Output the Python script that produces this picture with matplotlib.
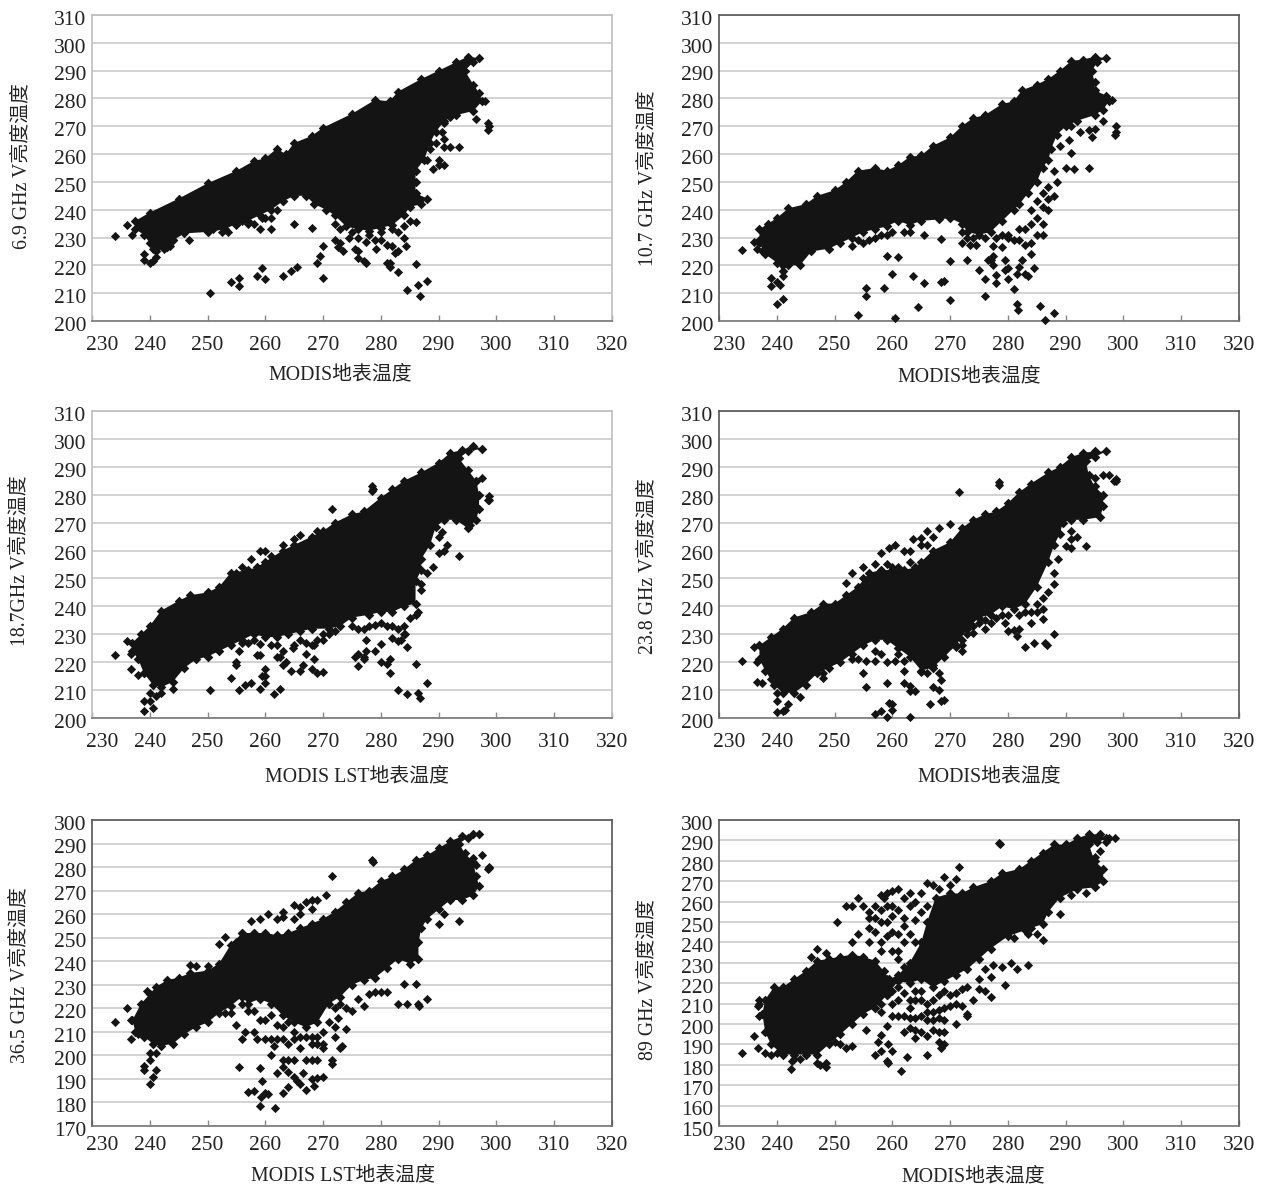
import matplotlib
matplotlib.use('Agg')
import matplotlib.pyplot as plt
from matplotlib.transforms import ScaledTranslation

plt.rcParams['font.family'] = ['Liberation Serif', 'Noto Sans CJK SC', 'DejaVu Sans']

W, H = 1267, 1189

# x ticks are the same in every panel
x_ticks = [230, 240, 250, 260, 270, 280, 290, 300, 310, 320]
y_ticks_a = [200, 210, 220, 230, 240, 250, 260, 270, 280, 290, 300, 310]
y_ticks_b = [170, 180, 190, 200, 210, 220, 230, 240, 250, 260, 270, 280, 290, 300]
y_ticks_c = [150, 160, 170, 180, 190, 200, 210, 220, 230, 240, 250, 260, 270, 280, 290, 300]

# the black mass cannot be split into single points, so its outline is read off the picture
p1_body = [(237.5,236),(240,239),(245,244),(250,249.5),(255,254),(258,257.5),(260,258.5),(262,262),(263.5,260),(265,264),(268,266.5),(270,269.5),(275,274.5),(279,279.5),(281.5,279),(283,282.5),(287,287),(290,290),(293,293),(295,295),(297,294.5),(296,293),(294.5,290),(296,285),(297,282),(297.5,279),(296,275.5),(293,274),(291,272),(289.5,268),(288.5,264),(287.5,258),(286,254),(286,250),(286,246),(288,244),(287,242),(285,241),(284,238),(282,234.5),(280,233.5),(278,232.5),(276,233),(274,234),(272,238),(270.5,240),(268.5,242),(267,245),(265,245),(263,243),(261,240),(259,238),(257,236),(255,235),(253,233),(250,232),(246,231.5),(244,229),(243,226.5),(241,225),(240,228),(239,231),(237.5,233)]
p1_points = [(234,230.5),(236,234.5),(237,231),(239,224),(239,222),(240,221),(240.5,221.5),(241,223),(240.5,226),(241.5,227),(242.5,226),(243.5,227),(244,229),(246.8,229),(251,233),(252.5,232),(253.5,232),(255,234.5),(256,236),(257,235),(258,235),(259,233),(259.5,237),(260,237),(261,233),(261,237),(262,240),(263,243),(265,235),(268,233.5),(269,221),(269.5,223.5),(270,227),(270,215.5),(264.5,218),(265.5,219.5),(263,216),(260,215),(259.5,219),(258.5,216),(255.5,215.5),(255.5,212.5),(254,214),(250.5,210),(272,229),(272.5,226.5),(273,228),(273.5,225),(274.5,230),(275.5,226),(276,225),(276,222.5),(277,221.5),(277.5,221),(277.5,228.5),(279,229),(280,229),(279.2,226),(281,227.5),(282,227),(283,225),(282.5,224.5),(284,230),(284.3,227),(281,221),(281.5,221),(281.5,219.5),(283,217.5),(286,220.5),(284.5,211),(286.5,213),(286.7,209),(288,214.5),(289,254.5),(291,256),(290,256),(290,258),(291,262.5),(292,262.5),(293.5,262.5),(291,265.5),(289.5,264),(288.5,262),(288,258),(290.5,268),(291,271),(292,273.5),(296.5,272.5),(298.5,268.5),(298.7,270),(298.5,271),(298,279),(286,235.5),(285,236),(284,234),(283,232),(282,233),(280,232),(278,231),(276,230),(275,232),(272,235),(273,233)]

p2_body = [(237,233),(238.5,235),(240,237),(242,240.5),(245,242),(247,245),(250,247),(252,250),(254,254),(257,255),(259,254),(261,256),(263,259),(265,259.5),(267,263),(270,266),(272,270),(274,273),(276,274),(279,278),(281,279),(282.5,283),(285,285),(287,287),(289,290),(291,293.5),(293,294),(295,295),(297,294.5),(295.5,293),(294.5,290),(295,286),(295,283),(297,281),(297.5,279),(296.5,276),(295,274),(292,272),(290,270),(288.5,267),(287.5,262),(287,258),(286,255),(285,250),(283.5,246),(282,242),(281,240),(279,236),(277,232),(275,231),(273,232),(272,235),(270,237),(268,236.5),(265,236),(263,234.5),(261,236),(259,234),(257,233),(255,232),(253,230),(251,228),(249,226),(246,225),(244,220),(242,220),(241,218),(240,221),(238,224),(237,228)]
p2_points = [(234,225.5),(236,228.5),(236.5,226),(237,229),(237.5,225),(239,215.5),(239,212.5),(240,214),(240.5,213),(241,216),(240,206),(241,208),(254,202),(255.5,212),(255.5,209),(258.5,212),(260,217),(259,223.5),(261,223),(263.5,216),(265.5,213.5),(264.5,205),(260.5,201),(268.5,214),(269,214.5),(268.5,229.5),(265.5,231),(270,221.5),(270,207.5),(272,228),(273,222),(273.5,227.5),(274.5,227.5),(275,218.5),(276,215),(276,209),(276.5,222),(277,222),(277.5,223.5),(277.5,220),(278,216.5),(278,213.5),(277.5,227),(279,226.5),(279.5,222),(280,219),(279.5,218.5),(280,215),(281,211.5),(281.5,217),(281.5,206),(281.8,204),(282,219.5),(282.5,222),(283,217),(283.5,216),(284,224),(284.5,219),(284,228),(281,229),(282,229),(283,227.5),(285,231),(286,231),(286,235),(285.5,205.5),(286.5,200.5),(288,203),(288.5,250),(288,254),(291,260.5),(290,255),(291.5,254.5),(294,255),(290.5,265),(289,263),(291,270),(292.5,268),(294,268.5),(294.5,266),(295,269),(296.5,272),(298.7,270),(298.5,267),(298.7,268),(298,279.5),(286,246),(287,248),(285,243),(284,240),(286,241),(285,237),(283,233),(284,235),(282,233),(280,231),(279,231),(287,244),(288,245),(287,240),(253,227),(254,229),(255,228),(256,229),(257,230),(258,231),(259,231),(260,232),(262,232),(263,232),(272,232),(273,230),(274,230),(276,230),(278,230),(280,230)]

p3_body = [(237,227),(238.5,230),(240,233),(242,238.5),(245,242),(247,244),(250,245),(252,247),(254,252),(257,253),(258.5,254),(260,256),(263,260),(265,262),(268,265),(270,267),(272,270),(275,273),(277,274),(280,279),(282,282),(284,285),(287,288),(290,291.5),(292,295),(294,296),(296,297.5),(297.5,296.5),(295,295.5),(293.5,293),(295,289),(296.5,285),(297,280),(297,275),(296.5,271),(295,268),(293,271),(291,271),(289.5,268.5),(288.5,262),(287,257),(287,253),(286,249),(286,241),(284,240),(282,238),(280,238),(278,237),(275,236),(273,233),(271,232),(268,232),(266,231),(264,230),(262,229),(260,229),(258,230),(256,228),(254,226),(252,224),(250,222),(248,221),(246,218),(244,213),(242,211),(240.5,212),(239,216),(238,221),(237,224)]
p3_points = [(234,222.5),(236,227.5),(236.8,223),(236.8,217.5),(238,215.5),(239,216),(239,206),(240,206),(239,202.5),(240.5,203.5),(241,208),(240,209),(242,209),(244,210.5),(250.5,210),(254,214.5),(255.5,210),(256.5,212),(257.5,212.5),(259,210.5),(260,212.5),(259.5,215),(260,215),(260,217.5),(261.5,208.5),(262.5,210.5),(255,219),(255,220),(255.5,224),(256,227),(258.5,222.5),(259,222.5),(259,226.5),(262,222),(262.5,222),(263,224),(263,219),(263.5,220),(264.5,217),(264.8,225),(266,217),(266.5,219),(267,223),(268,217.5),(269,216),(270,216.5),(268.5,221),(268.5,226),(270,228),(275.5,222),(276,223),(276,218.5),(277,222),(277.5,228),(277.5,224),(277,221),(279,224),(280,226.5),(279,233.5),(280,220),(281,219.5),(281.5,221),(281.5,216),(282,228.5),(283,227.5),(283.5,228),(284,230),(284.5,225.5),(286,219.5),(283,210),(284.5,208.5),(286.5,209),(286.7,207),(288,212.5),(293.5,258),(291,260),(290,259),(291.5,262),(290,265),(290.5,266.5),(289,254),(288,252),(287,248),(287,246),(271.5,275),(278.5,283),(278.7,282),(278.5,281.5),(295.5,269),(297.5,286),(296.5,285),(298.7,279.5),(298.5,278),(298.7,278),(255,252),(256,254),(257.5,257),(259,260),(260,260),(261,258),(263,262),(265,264),(266,265.5),(267.5,263),(269,267),(265,226),(266,228),(267,227),(268,226),(269,228),(270,230),(271,230),(272,231),(275,233),(276,232),(277,232),(278,233),(280,234),(281,233),(282,233),(283,232),(284,233),(284.2,230),(285,236),(286,237),(286.5,238),(261,226),(262,226),(257,227),(258,228)]

p4_body = [(237,226),(239,229),(241,232),(243,236),(246,238),(248,241),(250,241),(252,244),(254,247),(256,252),(258,253),(260,253),(262,253),(264,254),(265,256),(267,260),(270,263),(272,268),(274,271),(276,273),(278,274),(280,277),(282,281),(284,284),(287,288),(289,290),(291,293.5),(293,295),(295,295.5),(297,295.5),(295,293.5),(293.5,292),(294,287),(295,283),(296.5,280),(296.5,276),(296,272),(293,271),(291,271),(289.5,270),(289,266),(288,262),(287,256),(285,247),(283,241),(281,239),(279,240),(277,237),(275,236),(273,232),(271,226),(269,222),(267,218),(265,217),(263,222),(261,225),(259,228),(257,228),(255,226),(253,223),(251,220),(249,218),(247,216),(245,212),(243,209),(241,209),(239.5,212),(238,217),(237,221)]
p4_points = [(234,220.5),(236,225.5),(236.5,220),(236.5,213),(237.5,212.5),(239,214),(240,209),(240,206),(240,202),(241,202.5),(241.5,203),(242,205),(244,207.5),(248,216),(248,214.5),(253,221),(254,221),(255,216),(255.5,211),(255.5,220.5),(257,220.5),(257,224),(258,223),(259,220),(259,212.5),(257,201.5),(258,202.5),(259,200.5),(259.5,205.5),(260,205),(260,203),(260.5,220.5),(261,223),(262,217),(262,220.5),(262,212.5),(263,211.5),(263,209.5),(264,209.5),(263,200.5),(264,222),(265,220),(265,216.5),(266,216),(266.5,205),(267,211),(268,210),(268,216),(268.5,213.5),(268.5,206),(269,206.5),(267,219),(269,224),(270,226),(271,225.5),(272,224),(272,226),(274,230.5),(276,232),(277,234),(279.5,234),(280,231),(281,231.5),(282,232),(281.5,229.5),(283,225.5),(284.5,227),(286.5,227),(286.7,226),(288,230),(284,234),(286,235.5),(286,239),(285,238),(287,245),(288,248),(288,252),(288.7,257),(290,261.5),(291,261),(292,265),(291,267),(291,264),(293.5,261.5),(271.5,281),(278.5,284.5),(278.5,283.5),(296.5,287),(297.5,287),(295,286),(298.7,285.5),(298.3,285),(298.7,284.8),(252,248.5),(253,252),(255,250),(255,254),(257,255),(258,259),(259.5,261),(260.5,262),(262,260),(263,260),(263.5,264),(265,264.5),(266,267),(267,265),(268,268),(270,269.5),(265,262),(266,262),(259,255),(260,254),(261,254),(263,256),(272,228),(273,230),(274,233),(275,234),(276,235),(278,236),(279,237),(280,237),(282,237),(283,238),(284,238),(285,241),(286,243)]

p5_body = [(237,215),(238.5,222),(240,226),(241,229),(243,232),(245,233),(247,235),(250,236),(252,239),(254,247),(256,252),(258,252),(260,252),(262,251),(264,252),(266,254),(268,256),(270,258),(272,261),(274,265),(276,269),(278,270),(280,274),(282,276),(284,279),(286,283),(288,285),(290,288),(292,291),(294,293),(296,294),(297,294),(295,292.5),(293.5,290),(294.5,286),(296,282),(296.5,276),(297,272),(296,268),(294,266),(292,266),(290,262),(288,258),(287,254),(286.5,248),(286.5,241),(285,239),(283,241),(281,237),(279,233),(277,232),(275,230),(273,225),(271,222),(269,214),(267,212),(265,214),(263,217),(261,222),(259,224),(257,222),(256,225),(254,221),(252,218),(250,214),(248,212),(246,209),(244,205),(242,204),(240.5,205),(239,208),(237.5,210)]
p5_points = [(234,214),(236,220),(236.7,215),(236.7,207),(238,209),(239.5,227.5),(240,201),(241,201),(240,198),(239,194),(239,195.5),(241,194),(240.5,191),(240,188),(253,218),(254,218),(255,213),(255.5,195),(256,207),(256.5,210),(258,210),(258.5,207),(257,184.5),(258,185),(259,194.5),(259.5,189),(259,178.5),(259.2,182.5),(260,184),(260.5,183.5),(260,207),(261,207),(262,207),(263,207),(261.5,204),(261,200),(262,192.5),(263,184),(261.7,177.5),(264,186.5),(263,198),(264,198),(265,198),(263,195),(264,193),(265,191),(265.5,189),(266,188),(267,185.5),(267,198),(268,198),(269,198),(266.5,192.5),(268,190),(269,190.5),(270,191),(268.5,187),(268,208),(269,205),(270,205),(270,203),(271.5,196.5),(271.5,198),(273,203),(273.2,204),(272,212),(272,208),(274,211),(272.5,216),(274,220),(275,219),(276,224),(277,221),(278,226),(279,227),(280,227),(281,227),(283,222),(284.5,222),(286.5,222),(286.6,221),(288,224),(286,230.5),(284,230.5),(293.5,257),(291,260),(290,256),(278.5,283),(278.6,282),(271.5,276),(297.5,285),(296,284),(296.5,281),(295,279),(298.7,280),(298.5,279),(298.7,279.5),(252,247.5),(253,250.5),(255,248),(256,252),(257.5,257),(259,258),(260.5,260),(262,258),(263,259),(263,261),(265,264),(266,263),(267,265),(268,266),(269,266),(270.5,268),(265,258),(266,260),(268,262),(258,252),(260,250),(261,250),(263,250),(250,238),(247,238.5),(248,238),(263,212),(264,214),(265,210),(266,208),(267,208),(268,205),(269,208),(270,210),(271,214),(272,220),(273,222),(260,215),(261,217),(259,215),(258,219),(257,219),(256,222),(264,205),(265,207),(266,203),(262,213)]

p6_body = [(237.5,205),(238,212),(239.5,218),(241,218),(243,222),(245,226),(247,231),(249,232),(251,233),(253,234),(255,233),(257,231),(258.5,226),(259.5,222),(261,224),(263,230),(265,240),(266,250),(267.5,262),(270,264),(272,264),(274,267),(277,270),(279,274),(282,276),(284,280),(286,284),(288,288),(290,288),(292,291),(294,293),(296,293),(297,291),(295.5,289),(294,288),(295,280),(296.5,276),(296.5,270),(295,267),(292,266),(289,262),(287,255),(286,249),(283,246),(280,243),(277,237),(275,232),(273,227),(271,224),(269,221),(267,218),(265,222),(263,220),(261,221),(259,214),(257,208),(255,205),(253,200),(251,195),(249,190),(247,185),(245,185),(243,185),(241,185),(239,190),(238,196)]
p6_points = [(234,186),(236,194),(236.7,188),(238,186),(237,204),(236.7,209),(237,212),(237,210),(239,185),(240,186),(242.5,178),(242.7,182),(243,183),(244,183),(247,181),(247.5,180),(248.5,179),(248.5,181),(250,191),(251,190),(252,188),(253,189),(255.5,197),(257,185),(258,187),(257.5,191),(258,194.5),(259.3,190),(260,187),(259,182),(259.2,181),(261.5,177),(262.5,184),(266,185),(268.5,188),(269,190),(268,191),(262,196),(263,198),(264,197),(265,196),(266,194),(267,197),(268,196),(269,196),(264,193),(259,199),(260,204),(261,204),(262,204),(263,203),(264,203),(265,204),(266,202),(267,202),(268,203),(269,202),(271,200),(273,205),(273,204),(272,209),(271,210),(270,209),(269,208),(268,207),(267,206),(266,210),(265,212),(264,212),(262,215),(261,212),(259,214),(258,210),(257,208),(274,212),(275,217),(276,216),(277,213),(277.5,229),(279,228),(279.5,219),(280.5,230),(281.5,227),(283.5,229),(276,227),(277,223),(275,222),(258.5,262),(259,258),(257,258),(256,255),(254,262),(253,258),(252,258),(250.5,250),(254,244),(253,240),(256,252),(258,250),(260,253),(260,265),(259,264),(258,263),(261,266),(262,262),(263,264),(263,258),(264,251),(265,264),(266,269),(267,268),(268,266),(269,272),(270,268),(271,271),(264,260),(262,248),(260,245),(258,240),(256,240),(247,237),(246,233),(248.5,235),(271.5,277),(278.5,288.5),(278.6,288),(284,247),(285,244),(286,241),(283.5,244),(281,242),(289,254),(293.5,264),(291,263),(298.5,291),(297.5,291),(297,289),(296,285),(295,282),(255,222),(256,214),(256.5,212),(258,206),(258,218),(259,222),(260,216),(260,210),(261,218),(262,224),(263,212),(263,208),(264,216),(265,216),(266,206),(267,212),(268,214),(269,216),(270,214),(271,215),(272,217),(273,218),(262,240),(261,236),(260,236),(258,236),(259,243),(261,244),(257,245),(256,247),(263,244),(262,252),(261,256),(260,258),(259,250),(258,256),(257,252),(255,258),(264,240),(265,255),(266,258),(261,232),(262,228),(263,226),(264,224)]

y_names = ['6.9 GHz V亮度温度', '10.7 GHz V亮度温度', '18.7GHz V亮度温度',
           '23.8 GHz V亮度温度', '36.5 GHz V亮度温度', '89 GHz V亮度温度']
x_names = ['MODIS地表温度', 'MODIS地表温度', 'MODIS LST地表温度',
           'MODIS地表温度', 'MODIS LST地表温度', 'MODIS地表温度']

fig = plt.figure(figsize=(W / 100, H / 100), dpi=100, facecolor='white')


def draw_panel(box, body, points, yticks, yname, xname, ypos, xpos, frame, xpad):
    left, right, top, bottom = box
    ax = fig.add_axes([left / W, 1 - bottom / H, (right - left) / W, (bottom - top) / H])
    ax.set_xlim(230, 320)
    ax.set_ylim(yticks[0], yticks[-1])
    ax.set_xticks(x_ticks)
    ax.set_yticks(yticks)
    ax.tick_params(axis='x', direction='in', length=4, width=1, color='#888888',
                   labelsize=15.5, pad=xpad, labelcolor='#222222')
    ax.tick_params(axis='y', length=0, labelsize=15.5, pad=4, labelcolor='#222222')
    # 230 sits to the right of its tick in the original, clear of the y labels
    shift = ScaledTranslation(7 / 72, 0, fig.dpi_scale_trans)
    first = ax.get_xticklabels()[0]
    first.set_transform(first.get_transform() + shift)
    down = ScaledTranslation(0, -2 / 72, fig.dpi_scale_trans)
    for lab in ax.get_yticklabels():
        lab.set_transform(lab.get_transform() + down)
    ax.grid(axis='y', color='#cfcfcf', lw=1.3)
    ax.set_axisbelow(True)
    for s in ax.spines.values():
        s.set_color(frame)
        s.set_linewidth(1.2)
    ax.spines['bottom'].set_color('#777777')

    ax.fill([p[0] for p in body], [p[1] for p in body], color='#141414', lw=0, zorder=3)
    ax.scatter([p[0] for p in body], [p[1] for p in body], marker='D', s=24,
               color='#141414', lw=0, zorder=3)
    ax.scatter([p[0] for p in points], [p[1] for p in points], marker='D', s=22,
               color='#141414', lw=0, zorder=3, clip_on=False)

    fig.text(ypos[0] / W, 1 - ypos[1] / H, yname, rotation=90, ha='center', va='center',
             fontsize=14.3, color='#222222')
    fig.text(xpos[0] / W, 1 - xpos[1] / H, xname, ha='center', va='center',
             fontsize=14.3, color='#222222')


draw_panel((92, 612, 15, 321), p1_body, p1_points, y_ticks_a, y_names[0], x_names[0],
           (22, 166), (340, 375), '#bdbdbd', 10.5)
draw_panel((719, 1239, 15, 321), p2_body, p2_points, y_ticks_a, y_names[1], x_names[1],
           (648, 178), (969, 377), '#555555', 10.5)
draw_panel((92, 612, 411, 718), p3_body, p3_points, y_ticks_a, y_names[2], x_names[2],
           (20, 561), (357, 777), '#bdbdbd', 11)
draw_panel((719, 1239, 411, 718), p4_body, p4_points, y_ticks_a, y_names[3], x_names[3],
           (648, 566), (989, 777), '#555555', 11)
draw_panel((92, 612, 820, 1126), p5_body, p5_points, y_ticks_b, y_names[4], x_names[4],
           (20, 975), (343, 1176), '#555555', 7.5)
draw_panel((719, 1239, 820, 1126), p6_body, p6_points, y_ticks_c, y_names[5], x_names[5],
           (648, 980), (973, 1177), '#555555', 7.5)

plt.savefig('out.png', dpi=100)
